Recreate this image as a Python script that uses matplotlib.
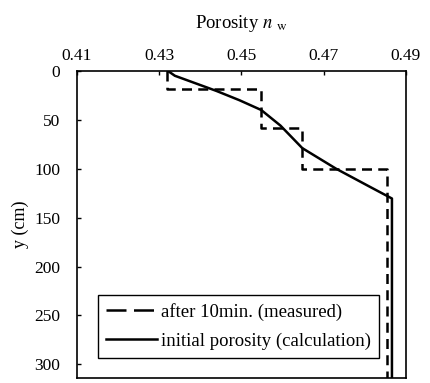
import numpy as np
import matplotlib
matplotlib.use("Agg")
from matplotlib import pyplot as plt

# measured porosity after 10 min (step profile)
meas_n = [0.432, 0.432, 0.4548, 0.4548, 0.4648, 0.4648, 0.4855, 0.4855]
meas_y = [0, 19, 19, 58, 58, 100, 100, 314]

# initial porosity (calculation)
calc_n = [0.4321, 0.4338, 0.4439, 0.4495, 0.4548, 0.4595, 0.4648, 0.4689, 0.4730, 0.4810, 0.4866, 0.4866]
calc_y = [0, 5, 20.5, 30, 40, 56, 79, 89.5, 100, 118, 130.5, 314]

xticks = [0.41, 0.43, 0.45, 0.47, 0.49]
yticks = [0, 50, 100, 150, 200, 250, 300]

plt.rcParams['font.family'] = ['Liberation Serif', 'DejaVu Serif']
plt.rcParams['mathtext.fontset'] = 'stix'
plt.rcParams['font.size'] = 12.5

fig = plt.figure(figsize=(4.3, 3.83), dpi=100)
ax = fig.add_axes([0.179, 0.013, 0.765, 0.802])

ax.plot(meas_n, meas_y, color='black', lw=1.8, dashes=[4, 2.5],
        label="after 10min. (measured)")
ax.plot(calc_n, calc_y, color='black', lw=1.8,
        label="initial porosity (calculation)")

ax.set_xlim(0.41, 0.49)
ax.set_ylim(314, 0)
ax.set_xticks(xticks)
ax.set_xticklabels(["%.2f" % v for v in xticks])
ax.set_yticks(yticks)
ax.xaxis.tick_top()
ax.xaxis.set_label_position('top')
ax.tick_params(direction='in', length=3, width=1, color='black')
ax.tick_params(axis='x', pad=5)
ax.tick_params(axis='y', pad=12)
for s in ax.spines.values():
    s.set_linewidth(1.2)

ax.set_xlabel(r"Porosity $n$ $_{\rm w}$", fontsize=13.5, labelpad=14)
ax.set_ylabel("y (cm)", fontsize=13, labelpad=4)

leg = ax.legend(loc='lower left', bbox_to_anchor=(0.064, 0.065), fancybox=False,
                edgecolor='black', framealpha=1, handlelength=2.7,
                handletextpad=0.2, borderpad=0.45, labelspacing=0.6,
                borderaxespad=0, fontsize=13.5)
leg.get_frame().set_linewidth(1.0)
leg.get_lines()[0].set_dashes([8, 3])

fig.savefig("out.png", dpi=100)
